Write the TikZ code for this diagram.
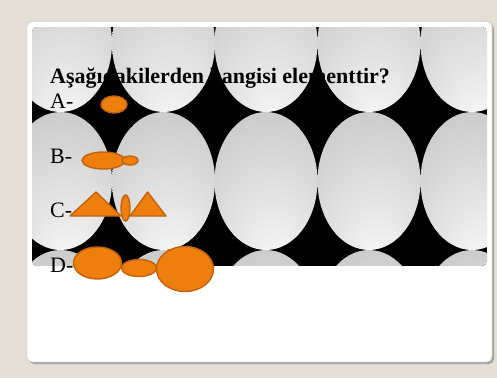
\documentclass[tikz,border=0pt]{standalone}
\usepackage{fontspec}
\setmainfont{Liberation Serif}
\usetikzlibrary{shapes, positioning}

\definecolor{bgbeige}{RGB}{227,223,213}
\definecolor{atomfill}{RGB}{238,127,12}
\definecolor{atomline}{RGB}{192,98,14}

% light spot low in each egg, grey towards the rim
\pgfdeclareradialshading{egg}{\pgfpoint{4bp}{-32bp}}{%
  rgb(0bp)=(0.98,0.98,0.98); rgb(18bp)=(0.90,0.90,0.90);
  rgb(45bp)=(0.79,0.79,0.79); rgb(80bp)=(0.64,0.64,0.64);
  rgb(95bp)=(0.60,0.60,0.60)}

\tikzset{
  atom/.style={shape=ellipse, draw=atomline, fill=atomfill, line width=1.4pt, inner sep=0pt},
  wedge/.style={draw=atomline, fill=atomfill, line width=1.4pt, line join=round},
  answer/.style={anchor=base west, inner sep=0pt, font=\fontsize{22}{26}\selectfont},
}

\begin{document}
\begin{tikzpicture}[x=1pt, y=-1pt]
% page and card
\fill[bgbeige] (0,0) rectangle (497,378);
\fill[black!35, rounded corners=5pt] (29,24) rectangle (494,364);
\draw[black!25, fill=white, rounded corners=5pt] (27,21.5) rectangle (492,362);
% eggs behind the question
\begin{scope}
\clip[rounded corners=5pt] (32,27) rectangle (487,266);
\fill[black] (32,27) rectangle (487,266);
\foreach \cx in {60.5,163.5,266,369,472}
  \foreach \cy in {43,181,319}
    \shade[shading=egg] (\cx,\cy) ellipse [x radius=51.5, y radius=69];
\end{scope}
% question and answers
\node[answer, font=\bfseries\fontsize{22}{26}\selectfont] (question) at (50,83) {Aşağıdakilerden hangisi elementtir?};
\node[answer] (la) at (50,108) {A-};
\node[answer] (lb) at (50,163) {B-};
\node[answer] (lc) at (50,217) {C-};
\node[answer] (ld) at (50,272) {D-};
%A
\node[atom, minimum width=26pt, minimum height=17pt] (a1) at (114,104.5) {};
%B
\node[atom, minimum width=43pt, minimum height=17pt] (b1) at (103.5,160.5) {};
\node[atom, minimum width=16pt, minimum height=9pt] (b2) at (130,160.5) {};
%C
\draw[wedge] (70,216) -- (96,192) -- (121,216) -- cycle;
\node[atom, minimum width=9pt, minimum height=26pt] (c1) at (125.5,208) {};
\draw[wedge] (130,216) -- (147.5,192) -- (166,216) -- cycle;
%D
\node[atom, minimum width=35pt, minimum height=17pt] (d2) at (139,268) {};
\node[atom, minimum width=48pt, minimum height=32pt] (d1) at (97.5,263) {};
\node[atom, minimum width=57pt, minimum height=45pt] (d3) at (185,269) {};
\end{tikzpicture}
\end{document}
